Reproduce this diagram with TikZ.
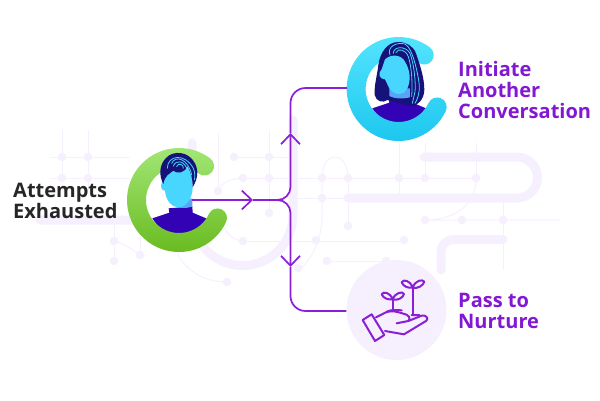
\documentclass[tikz,border=0pt]{standalone}
\usepackage{fontspec}
\setmainfont{Open Sans}
\usetikzlibrary{arrows.meta,positioning,calc}

\definecolor{trace}{HTML}{F6EFFD}
\definecolor{flow}{HTML}{8A1FD6}
\definecolor{flowtext}{HTML}{8218D2}
\definecolor{skin}{HTML}{48D6FF}
\definecolor{skinshade}{HTML}{5AA4F8}
\definecolor{hair}{HTML}{15127A}
\definecolor{shirt}{HTML}{3302B5}
\definecolor{greentop}{HTML}{A5E97A}
\definecolor{greenbottom}{HTML}{68BA1E}
\definecolor{bluetop}{HTML}{56E6FF}
\definecolor{bluebottom}{HTML}{1CC6EE}

\tikzset{
    thintrace/.style={draw=trace, line width=1pt},
    thicktrace/.style={draw=trace, line width=9pt, line cap=round},
    tracedot/.style={fill=trace},
    flowline/.style={draw=flow, line width=1.7pt},
    flowtip/.style={flowline, -{Straight Barb[length=10pt,width=19pt]}},
    strand/.style={draw=skin, line width=.8pt, line cap=round},
    sprout/.style={draw=flow, line width=2pt, line cap=round, line join=round},
    blacklabel/.style={font=\fontsize{20}{21}\selectfont\bfseries, text=black!85, align=left, inner sep=0pt, anchor=west},
    purplelabel/.style={blacklabel, text=flowtext}
}

% C shaped ring around an avatar: #1 centre, #2 and #3 gradient colours
\newcommand{\avatarring}[3]{
    \shade[top color=#2, bottom color=#3, shift={#1}]
        (-53:156) arc[start angle=-53, end angle=-335, radius=156]
        arc[start angle=-335, end angle=-515, radius=28.5]
        arc[start angle=-335, end angle=-53, radius=99]
        arc[start angle=-233, end angle=-413, radius=28.5] -- cycle;
}
% shoulders, cut by the inner side of the ring
\newcommand{\avatarbust}{
    \fill[shirt] (127,265) -- (178,248) -- (176,235) -- (247,229) -- (248,248) -- (295,268)
        .. controls (270,300) and (235,312) .. (207,312)
        .. controls (175,312) and (145,295) .. (127,265) -- cycle;
}

\begin{document}
\begin{tikzpicture}[x=1pt, y=-1pt]
\useasboundingbox (0,0) rectangle (600,400);

% thin traces
\draw[thintrace] (50,157) -- (130,157) (50,178) -- (130,178);
\draw[thintrace] (62,130) -- (62,190) (88,130) -- (88,190);
\draw[thintrace] (114,225) -- (114,261) (140,225) -- (140,255);
\draw[thintrace] (114,241) .. controls (125,244) and (133,250) .. (140,255);
\draw[thintrace] (177,253) .. controls (187,272) and (205,282) .. (227,282);
\draw[thintrace] (218,133) -- (218,191) (269,130) -- (269,213);
\draw[thintrace] (218,191) .. controls (220,183) and (232,178) .. (243,178);
\draw[thintrace] (218,213) .. controls (221,228) and (232,241) .. (243,241);
\draw[thintrace] (234,157) -- (290,157) (243,178) -- (476,178);
\draw[thintrace] (243,241) -- (404,241) (290,198) -- (348,198);
\draw[thintrace] (322,178) .. controls (322,150) and (348,150) .. (348,178);
\draw[thintrace] (322,178) -- (322,220) .. controls (320,245) and (310,262) .. (298,270);
\draw[thintrace] (348,178) -- (348,226) (399,143) -- (399,194);
\draw[thintrace] (425,143) -- (425,178) (476,143) -- (476,178);
\draw[thintrace] (476,178) .. controls (476,205) and (455,220) .. (425,220) -- (560,220);
\draw[thintrace] (503,200) -- (503,270) (327,261) -- (386,261);

% thick traces
\draw[thicktrace] (40,220) -- (135,220) .. controls (150,220) and (158,210) .. (152,198);
\draw[thicktrace] (192,143) -- (192,215) arc[start angle=180, end angle=0, radius=50.5] -- (293,120);
\draw[thicktrace] (424,157) -- (517,157) arc[start angle=-90, end angle=90, radius=20.5] -- (348,198);
\draw[thicktrace] (441,270) -- (441,252) arc[start angle=180, end angle=270, radius=12.5] -- (503,239.5);

% solder points
\foreach \px/\py in {62/157,88/157,62/178,88/178,114/241,140/255,114/261,227/282,
    234/157,269/157,243/178,269/178,218/191,269/213,243/241,298/268,
    322/178,348/178,399/178,425/178,476/178,322/198,348/198,348/226,
    425/220,462/220,503/220,316/240,404/240,327/261,386/261}
    \fill[tracedot] (\px,\py) circle[radius=4.3];

% avatar on the left
\fill[white] (179,200) circle[radius=36];
\begin{scope}[shift={(110,130)}, x=.3333pt, y=-.3333pt]
    \avatarbust
    \avatarring{(207,210)}{greentop}{greenbottom}
    \fill[skinshade] (190,215) -- (247,205) -- (247,230) .. controls (225,236) and (205,236) .. (190,225) -- cycle;
    \fill[skin] (165,115) -- (247,115) -- (248,175) .. controls (246,205) and (230,232) .. (205,232)
        .. controls (185,232) and (167,210) .. (165,182)
        .. controls (155,182) and (150,170) .. (155,160) -- cycle;
    \fill[hair] (160,162) .. controls (148,140) and (145,105) .. (170,82)
        .. controls (190,62) and (235,62) .. (255,100)
        .. controls (266,122) and (264,145) .. (248,172)
        .. controls (248,150) and (245,130) .. (232,108)
        .. controls (225,130) and (200,132) .. (190,122)
        .. controls (178,132) and (165,135) .. (160,162) -- cycle;
    \draw[strand] (172,115) .. controls (172,75) and (225,68) .. (250,115) .. controls (255,128) and (256,140) .. (253,150);
    \draw[strand] (185,100) .. controls (195,75) and (235,85) .. (245,135);
    \draw[strand] (190,108) .. controls (200,85) and (225,95) .. (232,120);
    \draw[strand] (200,110) .. controls (205,95) and (222,105) .. (220,115);
\end{scope}

% avatar at the top
\fill[white] (399,89) circle[radius=36];
\begin{scope}[shift={(330,20)}, x=.3333pt, y=-.3333pt]
    \avatarbust
    \avatarring{(206,207)}{bluetop}{bluebottom}
    \fill[hair] (205,66) .. controls (170,66) and (150,100) .. (145,135)
        .. controls (142,165) and (132,195) .. (134,225)
        .. controls (138,245) and (160,250) .. (172,240)
        -- (240,258) .. controls (262,258) and (282,240) .. (283,210)
        .. controls (283,170) and (268,130) .. (258,100)
        .. controls (250,78) and (228,66) .. (205,66) -- cycle;
    \fill[skinshade] (178,205) -- (240,205) -- (240,232) .. controls (215,238) and (190,235) .. (178,228) -- cycle;
    \fill[skin] (165,118) .. controls (185,100) and (215,105) .. (225,125)
        .. controls (240,150) and (244,180) .. (232,205)
        .. controls (220,228) and (195,228) .. (178,205)
        -- (165,178) .. controls (148,178) and (142,160) .. (155,148) -- cycle;
    \draw[strand] (180,105) .. controls (170,80) and (200,65) .. (225,72)
        .. controls (250,85) and (265,170) .. (268,195) .. controls (270,215) and (262,240) .. (255,250);
    \draw[strand] (190,100) .. controls (190,80) and (225,75) .. (240,100)
        .. controls (252,130) and (258,190) .. (255,215) -- (247,250);
    \draw[strand] (198,98) .. controls (205,82) and (228,90) .. (235,110)
        .. controls (245,140) and (248,190) .. (245,230);
\end{scope}

\coordinate (attempts) at (192,200);
\coordinate (tipin) at (253,200);
\coordinate (tipup) at (290.5,133);
\coordinate (tipdown) at (290.5,267);
\coordinate (bendup) at (290.5,88);
\coordinate (benddown) at (290.5,311);
\coordinate (another) at (347,88);

% sprouting hand
\node[circle, fill=trace, minimum size=100pt, inner sep=0pt] (nurture) at (396.5,310) {};

\draw[flowtip] (attempts) -- (tipin);
\draw[flowtip, rounded corners=13pt] (tipin) -- (tipup |- tipin) -- (tipup);
\draw[flowtip, rounded corners=13pt] (tipin) -- (tipdown |- tipin) -- (tipdown);
\draw[flowline, rounded corners=15pt] (tipup) -- (bendup) -- (another);
\draw[flowline, rounded corners=15pt] (tipdown) -- (benddown) -- (nurture.west |- benddown);

\begin{scope}[shift={(340,255)}, x=.3333pt, y=-.3333pt]
    \draw[sprout] (68,195) -- (95,178) -- (133,240) -- (105,258) -- cycle;
    \draw[sprout] (108,187) -- (138,172) .. controls (155,165) and (170,170) .. (190,176)
        .. controls (205,178) and (214,190) .. (205,198) -- (170,205);
    \draw[sprout] (205,198) -- (245,182) .. controls (258,178) and (268,192) .. (258,198)
        -- (192,238) -- (135,228);
    \draw[sprout] (218,98) -- (218,178) (158,133) -- (158,165);
    \draw[sprout] (140,170) .. controls (155,163) and (170,165) .. (185,166) (215,180) -- (238,180);
    \draw[sprout] (218,98) .. controls (210,75) and (190,72) .. (185,82) .. controls (190,95) and (205,100) .. (218,98)
        .. controls (226,75) and (248,72) .. (253,80) .. controls (250,92) and (232,102) .. (218,98);
    \draw[sprout] (158,133) .. controls (150,112) and (130,108) .. (125,118) .. controls (130,130) and (145,135) .. (158,133)
        .. controls (166,112) and (188,108) .. (192,117) .. controls (190,128) and (172,138) .. (158,133);
\end{scope}

% labels
\node[blacklabel] (attemptslabel) at (13,200.5) {Attempts\\Exhausted};
\node[purplelabel] (anotherlabel) at (458,90) {Initiate\\Another\\Conversation};
\node[purplelabel] (nurturelabel) at (458,311) {Pass to\\Nurture};

\end{tikzpicture}
\end{document}
